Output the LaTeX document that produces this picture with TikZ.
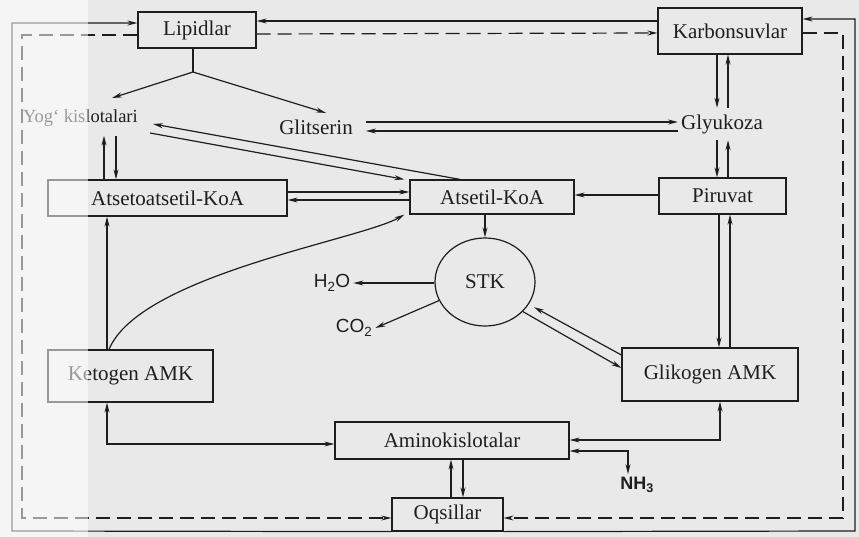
\documentclass[tikz,border=0pt]{standalone}
\usepackage{fontspec}
\setmainfont{Liberation Serif}
\newfontfamily\chemfont{Liberation Sans}
\usetikzlibrary{arrows.meta,shapes.geometric}
\definecolor{paper}{RGB}{233,233,233}
\definecolor{ink}{RGB}{30,30,30}

\begin{document}
\begin{tikzpicture}[x=1pt, y=-1pt,
        every node/.style = {font=\fontsize{21}{25}\selectfont, text=ink},
        box/.style = {shape=rectangle, draw=ink, line width=1.2pt, inner sep=0pt},
        word/.style = {inner xsep=3pt, inner ysep=6.5pt},
        chem/.style = {font=\chemfont\fontsize{19}{22}\selectfont, inner sep=3pt},
        arr/.style = {draw=ink, line width=1.2pt, -{Stealth[length=10pt,width=5pt]}},
        twoway/.style = {arr, {Stealth[length=10pt,width=5pt]}-{Stealth[length=10pt,width=5pt]}},
        longdash/.style = {dash pattern=on 14pt off 7pt}]
    \fill[paper] (0,0) rectangle (859,537);
    \useasboundingbox (0,0) rectangle (859,537);

    % boxes
    \node[box, minimum width=118pt, minimum height=36pt] (lip) at (197,30) {Lipidlar};
    \node[box, minimum width=144pt, minimum height=46pt] (karb) at (730,31) {Karbonsuvlar};
    \node[box, minimum width=127pt, minimum height=36pt] (pir) at (722.5,196) {Piruvat};
    \node[box, minimum width=164pt, minimum height=34pt] (atk) at (492,197) {Atsetil-KoA};
    \node[box, minimum width=239pt, minimum height=36pt] (aak) at (167.5,198) {Atsetoatsetil-KoA};
    \node[box, minimum width=165pt, minimum height=52pt] (ket) at (130.5,376) {Ketogen AMK};
    \node[box, minimum width=176pt, minimum height=53pt] (glik) at (710,374.5) {Glikogen AMK};
    \node[box, minimum width=234pt, minimum height=37pt] (amk) at (452,440.5) {Aminokislotalar};
    \node[box, minimum width=111pt, minimum height=33pt] (oqs) at (447.5,514.5) {Oqsillar};
    \node[ellipse, draw=ink, line width=1.2pt, minimum width=100pt, minimum height=88pt,
        inner sep=0pt] (stk) at (485,282) {STK};

    % free labels
    \node[word, inner ysep=9pt, anchor=east, font=\fontsize{18.5}{22}\selectfont] (yog) at (141,118) {Yog‘ kislotalari};
    \node[word] (glit) at (316,127) {Glitserin};
    \node[word] (gly) at (722,124) {Glyukoza};
    \node[chem] (h2o) at (332,283) {H\textsubscript{2}O};
    \node[chem] (co2) at (354,328) {CO\textsubscript{2}};
    \node[chem, font=\chemfont\bfseries\fontsize{18}{22}\selectfont] (nh3) at (637,485) {NH\textsubscript{3}};

    % lipids split
    \coordinate (fork) at (193,72);
    \draw[ink, line width=1.2pt] ([xshift=-4pt]lip.south) -- (fork);
    \draw[arr] (fork) -- ([xshift=-29pt,yshift=20pt]yog.east);
    \draw[arr] (fork) -- ([xshift=-30pt]glit.north east);

    % top row
    \draw[arr] ([xshift=10pt,yshift=5pt]glit.east) -- ([yshift=2pt]gly.west);
    \draw[arr] ([yshift=-7pt]gly.west) -- ([xshift=10pt,yshift=-4pt]glit.east);
    \draw[arr] ([xshift=-13pt]karb.south) -- ([xshift=-5pt]gly.north);
    \draw[arr] ([xshift=6pt]gly.north) -- ([xshift=-2pt]karb.south);
    \draw[arr] ([xshift=-5pt]gly.south) -- ([xshift=-5.5pt]pir.north);
    \draw[arr] ([xshift=5.5pt]pir.north) -- ([xshift=6pt]gly.south);

    % fatty acids
    \draw[arr] ([xshift=-32pt]atk.north) -- ([xshift=12pt,yshift=-6pt]yog.east);
    \draw[arr] ([xshift=9pt,yshift=-15pt]yog.east) -- ([xshift=-5pt]atk.north west);
    \draw[arr] ([xshift=-63.5pt]aak.north) -- ([xshift=-63.5pt]aak.north |- yog.south);
    \draw[arr] ([xshift=-51.5pt]aak.north |- yog.south) -- ([xshift=-51.5pt]aak.north);

    % acetyl-CoA
    \draw[arr] ([yshift=1pt]pir.west) -- ([yshift=2pt]atk.east);
    \draw[arr] ([yshift=6pt]aak.east) -- ([yshift=5pt]atk.west);
    \draw[arr] ([yshift=-3pt]atk.west) -- ([yshift=-2pt]aak.east);
    \draw[arr] (stk.north |- atk.south) -- (stk.north);

    % cycle
    \draw[arr] (h2o.east -| stk.west) -- (h2o.east);
    \draw[arr] (stk.202) -- (co2.east);
    \draw[arr, shorten >=6pt] ([yshift=19.5pt]glik.west) -- (stk.333);
    \draw[arr] (stk.322) -- ([yshift=6.5pt]glik.west);
    \draw[arr] ([xshift=-3.5pt]pir.south) -- ([xshift=-3.5pt]pir.south |- glik.north);
    \draw[arr] ([xshift=7.5pt]pir.south |- glik.north) -- ([xshift=7.5pt]pir.south);

    % ketogenic amino acids
    \draw[arr] ([xshift=-23.5pt]ket.north) -- ([xshift=-23.5pt]ket.north |- aak.south);
    \draw[arr] ([xshift=-21.5pt]ket.north) .. controls (140,275) and (360,240) .. ([xshift=-5pt]atk.south west);

    % amino acids
    \draw[twoway] ([xshift=-23.5pt]ket.south) |- ([yshift=-3.5pt]amk.west);
    \draw[twoway] ([yshift=0.5pt]amk.east) -| ([xshift=10pt]glik.south);
    \draw[twoway] ([yshift=-10.5pt]amk.east) -| ([xshift=-9pt]nh3.north);
    \draw[arr] ([xshift=3.5pt]oqs.north) -- ([xshift=3.5pt]oqs.north |- amk.south);
    \draw[arr] ([xshift=15.5pt]oqs.north |- amk.south) -- ([xshift=15.5pt]oqs.north);

    % outer loops
    \coordinate (sw) at (12,531);
    \coordinate (se) at (855,531);
    \coordinate (dl) at (22,518);
    \coordinate (dr) at (843,518);
    \draw[arr] ([yshift=10pt]karb.west) -- ([yshift=9pt]lip.east);
    \draw[arr, longdash] ([yshift=-4pt]lip.east) -- ([yshift=-2pt]karb.west);
    \draw[arr] (oqs.south west) -- (sw) |- ([yshift=7pt]lip.west);
    \draw[arr] (oqs.south east) -- (se) |- ([yshift=12pt]karb.east);
    \draw[arr, longdash] ([yshift=-5pt]lip.west) -| (dl) -- ([yshift=-3.5pt]oqs.west);
    \draw[arr, longdash] ([yshift=-2pt]karb.east) -| (dr) -- ([yshift=-3.5pt]oqs.east);

    % washed-out strip on the left
    \fill[white, opacity=0.55] (0,0) rectangle (88,537);
\end{tikzpicture}
\end{document}
